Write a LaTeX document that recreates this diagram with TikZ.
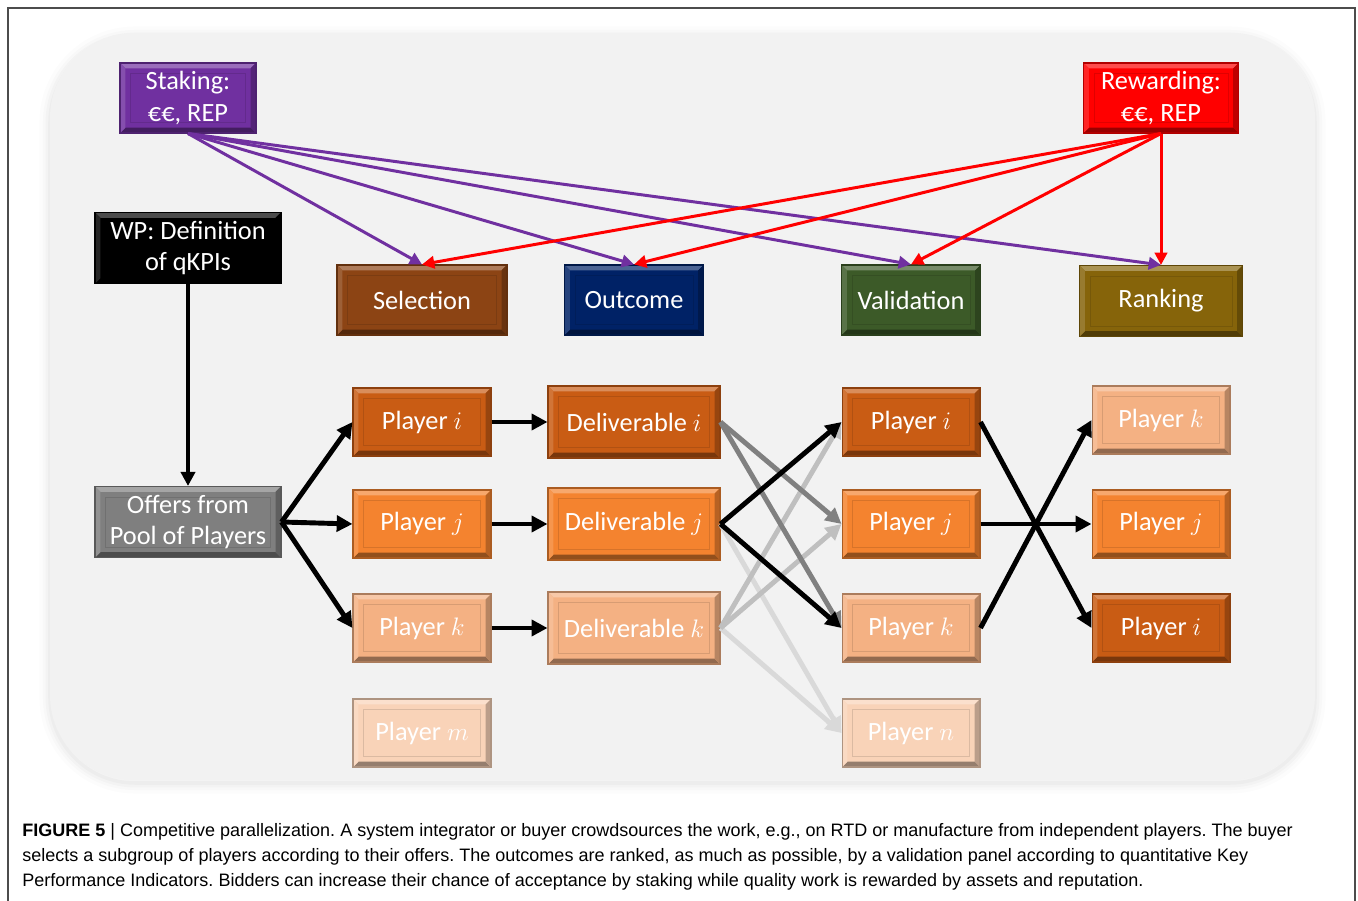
\documentclass[tikz,border=0pt]{standalone}
\usepackage{fontspec}
\setmainfont{Carlito}
\newfontfamily\capfont{Liberation Sans}
\usetikzlibrary{arrows.meta}
\definecolor{stakecol}{HTML}{7030A0}
\definecolor{rewardcol}{HTML}{FF0000}
\definecolor{selcol}{HTML}{8C4414}
\definecolor{outcol}{HTML}{002266}
\definecolor{valcol}{HTML}{3C5A28}
\definecolor{rankcol}{HTML}{86640A}
\definecolor{offercol}{HTML}{7F7F7F}
\definecolor{orA}{HTML}{C95C14}
\definecolor{orB}{HTML}{F4832F}
\definecolor{orC}{HTML}{F4B183}
\definecolor{orD}{HTML}{F9D3B8}
\definecolor{panelcol}{HTML}{F2F2F2}
\tikzset{
  bevel/.style={draw=#1!70!black, fill=#1, line width=0.6pt, text=white, align=center,
    inner sep=0pt, font=\fontsize{15}{18}\selectfont,
    path picture={
      \fill[#1!70!white] (path picture bounding box.north west) -- (path picture bounding box.north east)
        -- ([shift={(-3pt,-3pt)}]path picture bounding box.north east) -- ([shift={(3pt,-3pt)}]path picture bounding box.north west) -- cycle;
      \fill[#1!60!black] (path picture bounding box.south west) -- (path picture bounding box.south east)
        -- ([shift={(-3pt,3pt)}]path picture bounding box.south east) -- ([shift={(3pt,3pt)}]path picture bounding box.south west) -- cycle;
      \fill[#1!75!black] (path picture bounding box.north east) -- (path picture bounding box.south east)
        -- ([shift={(-3pt,3pt)}]path picture bounding box.south east) -- ([shift={(-3pt,-3pt)}]path picture bounding box.north east) -- cycle;
      \fill[#1!85!white] (path picture bounding box.north west) -- (path picture bounding box.south west)
        -- ([shift={(3pt,3pt)}]path picture bounding box.south west) -- ([shift={(3pt,-3pt)}]path picture bounding box.north west) -- cycle;
      \draw[#1!88!black, line width=0.4pt] ([shift={(6pt,-6pt)}]path picture bounding box.north west)
        rectangle ([shift={(-6pt,6pt)}]path picture bounding box.south east);
    }},
  player/.style={bevel=#1, minimum width=2.76cm, minimum height=1.36cm},
  deliv/.style={bevel=#1, minimum width=3.44cm, minimum height=1.44cm},
  thin/.style={line width=1.7pt, -{Triangle[length=7pt,width=7pt]}},
  thick/.style={line width=2.8pt, -{Triangle[length=9pt,width=9pt]}},
  caption/.style={anchor=west, inner sep=0pt, font=\capfont\fontsize{10.25}{12}\selectfont}
}
\frenchspacing
\begin{document}
\begin{tikzpicture}[x=0.02cm,y=-0.02cm]
\useasboundingbox (0,0) rectangle (1358,901);
\draw[black!70, line width=0.6pt] (8,901) -- (8,8) -- (1355,8) -- (1355,901);
\foreach \w/\o in {12/0.012,8/0.015,5/0.02,2/0.025}
  \draw[black, opacity=\o, line width=\w pt, rounded corners=1.7cm] (50,37) rectangle (1315,783);
\fill[panelcol, rounded corners=1.7cm] (50,33) rectangle (1315,780);

\node[bevel=stakecol, minimum width=2.72cm, minimum height=1.4cm] (stake) at (188,98) {Staking:\\€€, REP};
\node[bevel=rewardcol, minimum width=3.1cm, minimum height=1.4cm] (reward) at (1161,98) {Rewarding:\\€€, REP};
\node[bevel=black, minimum width=3.72cm, minimum height=1.42cm] (wp) at (188,248) {WP: Definition\\of qKPIs};
\node[bevel=offercol, minimum width=3.72cm, minimum height=1.42cm] (offers) at (188,522) {Offers from\\Pool of Players};

\node[bevel=selcol, minimum width=3.4cm, minimum height=1.4cm] (sel) at (422,300) {Selection};
\node[bevel=outcol, minimum width=2.78cm, minimum height=1.4cm] (outc) at (634,300) {Outcome};
\node[bevel=valcol, minimum width=2.78cm, minimum height=1.4cm] (valid) at (911,300) {Validation};
\node[bevel=rankcol, minimum width=3.26cm, minimum height=1.42cm] (rank) at (1161,301) {Ranking};

\node[player=orA] (pli) at (422,422) {Player $i$};
\node[player=orB] (plj) at (422,524) {Player $j$};
\node[player=orC] (plk) at (422,628) {Player $k$};
\node[player=orD] (plm) at (422,733) {Player $m$};

\node[deliv=orA] (dli) at (634,422) {Deliverable $i$};
\node[deliv=orB] (dlj) at (634,524) {Deliverable $j$};
\node[deliv=orC] (dlk) at (634,628) {Deliverable $k$};

\node[player=orA] (vli) at (911,422) {Player $i$};
\node[player=orB] (vlj) at (911,524) {Player $j$};
\node[player=orC] (vlk) at (911,628) {Player $k$};
\node[player=orD] (vln) at (911,733) {Player $n$};

\node[player=orC] (rkk) at (1161,420) {Player $k$};
\node[player=orB] (rkj) at (1161,524) {Player $j$};
\node[player=orA] (rki) at (1161,628) {Player $i$};

\foreach \t in {sel,outc,valid,rank}
  \draw[thin, stakecol] (stake.south) -- (\t.north);
\foreach \t in {sel,outc,valid,rank}
  \draw[thin, rewardcol] (reward.south) -- (\t.north);

\draw[line width=2.3pt, -{Triangle[length=8pt,width=8pt]}] (wp.south) -- (offers.north);
\foreach \t in {pli,plj,plk}
  \draw[thick] (offers.east) -- (\t.west);
\draw[thick] (pli) -- (dli);
\draw[thick] (plj) -- (dlj);
\draw[thick] (plk) -- (dlk);

\draw[thick, black!15] (dlj.east) -- (vln.west);
\draw[thick, black!15] (dlk.east) -- (vln.west);
\draw[thick, black!25] (dlk.east) -- (vli.west);
\draw[thick, black!25] (dlk.east) -- (vlj.west);
\draw[thick, black!50] (dli.east) -- (vlj.west);
\draw[thick, black!50] (dli.east) -- (vlk.west);
\draw[thick] (dlj.east) -- (vli.west);
\draw[thick] (dlj.east) -- (vlk.west);

\draw[thick] (vli.east) -- (rki.west);
\draw[thick] (vlj.east) -- (rkj.west);
\draw[thick] (vlk.east) -- (rkk.west);

\node[caption] (cap1) at (22,832)
  {\textbf{FIGURE 5} | Competitive parallelization. A system integrator or buyer crowdsources the work, e.g., on RTD or manufacture from independent players. The buyer};
\node[caption] (cap2) at (22,857)
  {selects a subgroup of players according to their offers. The outcomes are ranked, as much as possible, by a validation panel according to quantitative Key};
\node[caption] (cap3) at (22,882)
  {Performance Indicators. Bidders can increase their chance of acceptance by staking while quality work is rewarded by assets and reputation.};
\end{tikzpicture}
\end{document}
